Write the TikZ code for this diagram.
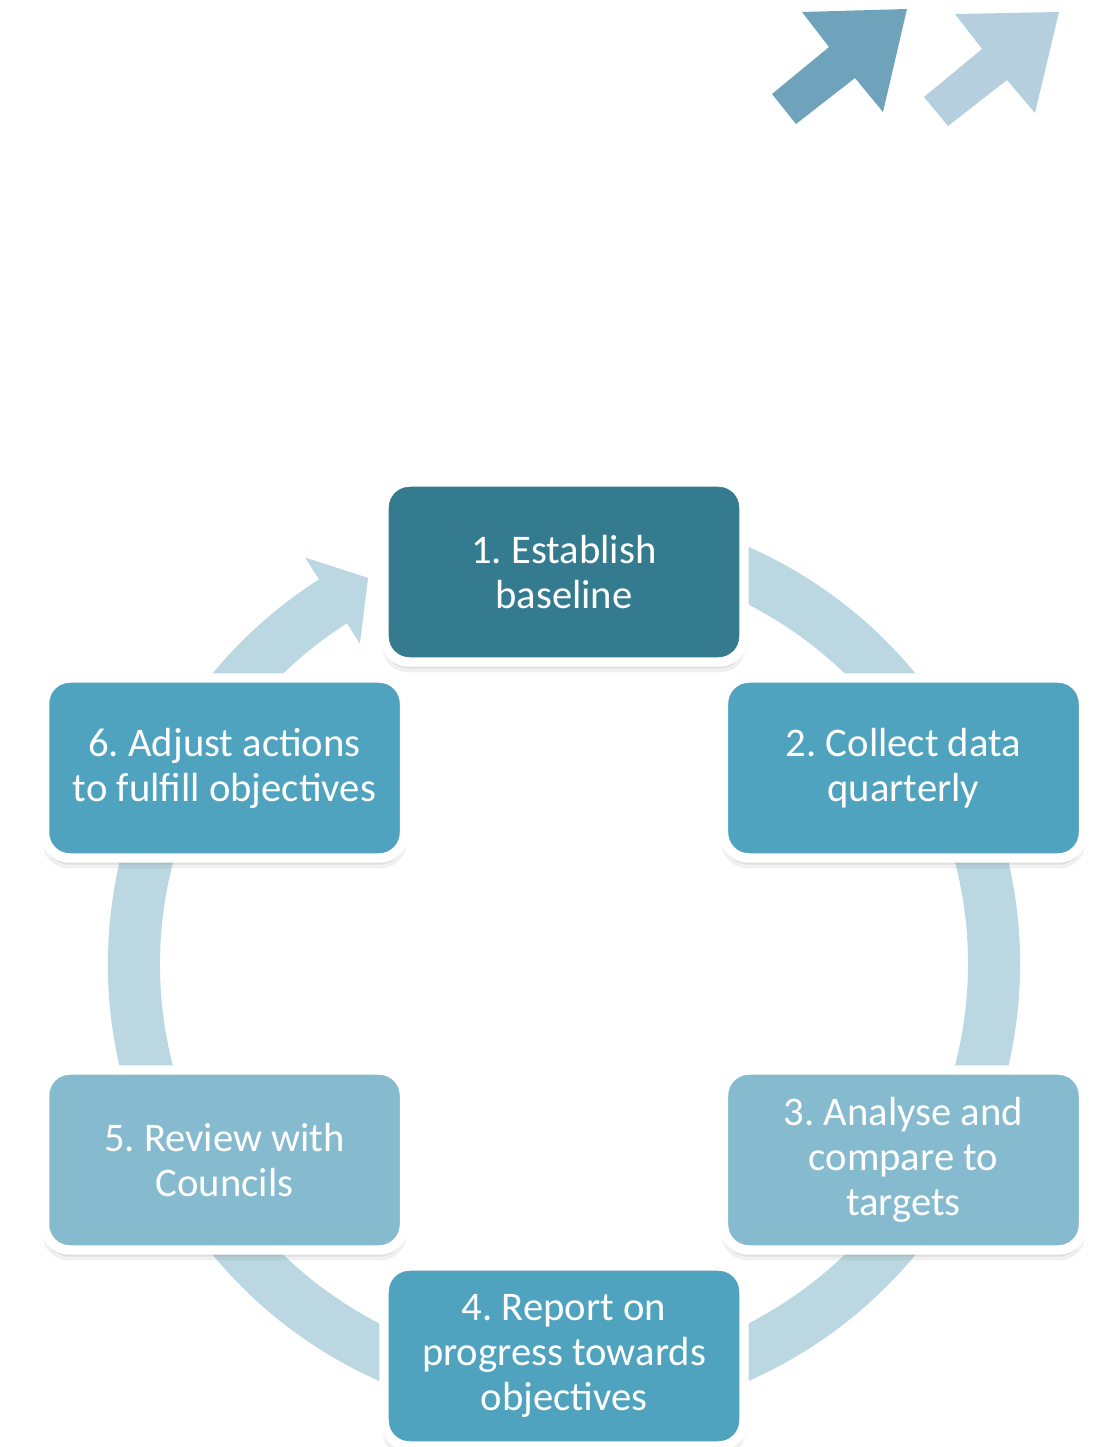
\documentclass[tikz,border=0pt]{standalone}
\usepackage{fontspec}
\setmainfont{Carlito}
\usetikzlibrary{shadows,calc}
\frenchspacing

\definecolor{darkteal}{RGB}{53,123,143}
\definecolor{midteal}{RGB}{80,163,191}
\definecolor{paleteal}{RGB}{134,187,207}
\definecolor{ringblue}{RGB}{187,216,226}
\definecolor{arrowdark}{RGB}{111,163,187}
\definecolor{arrowpale}{RGB}{182,207,222}

\tikzset{
  stepbox/.style={rounded corners=19pt, draw=white, line width=7.1pt,
    minimum width=270pt, minimum height=135pt, inner sep=0pt,
    text=white, align=center, font=\fontsize{30.5}{33.8}\selectfont,
    drop shadow={shadow xshift=0pt, shadow yshift=-7pt, shadow scale=1.01, opacity=0.12},
    drop shadow={shadow xshift=0pt, shadow yshift=-5pt, opacity=0.15}}
}

\begin{document}
\begin{tikzpicture}[x=0.75pt,y=0.75pt,yscale=-1,xscale=1]
        \useasboundingbox (0,0) rectangle (1110,1447);
        \coordinate (c) at (564,964);

        %Shape: Right Arrow [dark]
        \fill [arrowdark] (772,94) -- (796,124) -- (855,78) -- (883,112) -- (907,9) -- (802,12) -- (829,47) -- cycle ;
        %Shape: Right Arrow [pale]
        \fill [arrowpale] (924,97) -- (948,126) -- (1007,80) -- (1035,113) -- (1059,12) -- (955,14) -- (982,49) -- cycle ;

        %Shape: Circular Arrow
        \fill [ringblue] ($(c)+(-75:456)$) arc [start angle=-75, end angle=237.5, radius=456]
            -- ($(c)+(237.5:482)$) -- ($(c)+(243.1:433)$) -- ($(c)+(237.5:380)$)
            -- ($(c)+(237.5:404)$) arc [start angle=237.5, end angle=-75, radius=404] -- cycle ;

        % Text Node
        \node [stepbox, fill=darkteal] (establish) at ($(c)+(-90:392)$) {1. Establish\\baseline};
        % Text Node
        \node [stepbox, fill=midteal] (collect) at ($(c)+(-30:392)$) {2. Collect data\\quarterly};
        % Text Node
        \node [stepbox, fill=paleteal] (analyse) at ($(c)+(30:392)$) {3. Analyse and\\compare to\\targets};
        % Text Node
        \node [stepbox, fill=midteal] (report) at ($(c)+(90:392)$) {4. Report on\\progress towards\\objectives};
        % Text Node
        \node [stepbox, fill=paleteal] (review) at ($(c)+(150:392)$) {5. Review with\\Councils};
        % Text Node
        \node [stepbox, fill=midteal] (adjust) at ($(c)+(210:392)$) {6. Adjust actions\\to fulfill objectives};

    \end{tikzpicture}
\end{document}
